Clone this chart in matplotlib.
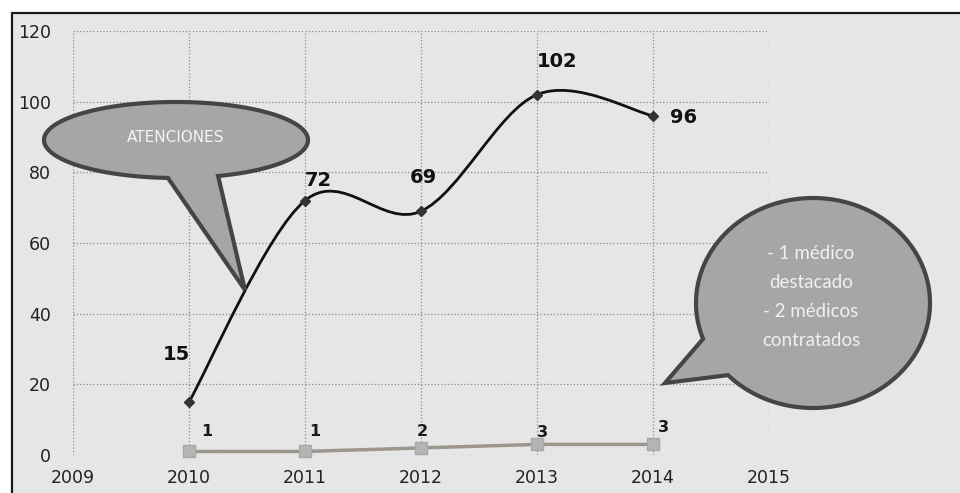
import numpy as np
import matplotlib.pyplot as plt
from matplotlib.path import Path
from matplotlib.patches import PathPatch, Polygon, Rectangle

years = [2010, 2011, 2012, 2013, 2014]
atenciones = [15, 72, 69, 102, 96]
medicos = [1, 1, 2, 3, 3]
xticks = [2009, 2010, 2011, 2012, 2013, 2014, 2015]
yticks = [0, 20, 40, 60, 80, 100, 120]
callout_main = "ATENCIONES"
callout_doc = "- 1 médico\ndestacado\n- 2 médicos\ncontratados"

# label offsets in pixels (dx, dy up)
off_at = [(-13, 47), (13, 20), (2, 34), (20, 33), (31, -2)]
off_me = [(18, 20), (10, 20), (1, 16), (5, 12), (10, 17)]


def smooth_path(xs, ys):
    # excel-like smoothed line as cubic bezier segments
    p = np.column_stack([xs, ys]).astype(float)
    n = len(p)
    verts = [p[0]]
    codes = [Path.MOVETO]
    for i in range(n - 1):
        p0 = p[i - 1] if i > 0 else p[i]
        p3 = p[i + 2] if i + 2 < n else p[i + 1]
        c1 = p[i] + (p[i + 1] - p0) / 6
        c2 = p[i + 1] - (p3 - p[i]) / 6
        verts += [c1, c2, p[i + 1]]
        codes += [Path.CURVE4] * 3
    return Path(verts, codes)


def bubble(cx, cy, a, b, t0, t1, tip):
    t = np.radians(np.linspace(t0, t1, 200))
    pts = np.column_stack([cx + a * np.cos(t), cy + b * np.sin(t)])
    return np.vstack([pts, [tip]])


fig = plt.figure(figsize=(9.6, 4.93), dpi=100)
fig.patch.set_facecolor('white')

# background / frame
bg = fig.add_axes([0, 0, 1, 1], zorder=0)
bg.set_xlim(0, 960)
bg.set_ylim(493, 0)
bg.axis('off')
bg.add_patch(Rectangle((12, 13), 960, 500, facecolor='#e6e6e6',
                       edgecolor='#1a1a1a', lw=1.6))

ax = fig.add_axes([73 / 960, 38 / 493, 696 / 960, 424 / 493], zorder=1)
ax.set_facecolor('none')
ax.set_xlim(2009, 2015)
ax.set_ylim(0, 120)
ax.set_xticks(xticks)
ax.set_yticks(yticks)
ax.grid(True, linestyle=':', color='#8a8a8a', lw=0.9)
for s in ax.spines.values():
    s.set_visible(False)
ax.tick_params(length=0, labelsize=12.5, colors='#222222')
ax.tick_params(axis='x', pad=10)
ax.tick_params(axis='y', pad=16)

# medicos series
ax.plot(years, medicos, color='#9c968e', lw=2.5, marker='s', ms=8,
        mfc='#b4b4b4', mec='#a8a8a8', zorder=3, clip_on=False)
for x, y, (dx, dy) in zip(years, medicos, off_me):
    ax.annotate(str(y), (x, y), xytext=(dx, dy), textcoords='offset pixels',
                ha='center', va='center', fontsize=11.5, fontweight='bold',
                color='#1a1a1a')

# atenciones series (smoothed)
ax.add_patch(PathPatch(smooth_path(years, atenciones), fill=False,
                       edgecolor='#111111', lw=2, zorder=4))
ax.plot(years, atenciones, ls='none', marker='D', ms=5, color='#333333',
        zorder=5)
for x, y, (dx, dy) in zip(years, atenciones, off_at):
    ax.annotate(str(y), (x, y), xytext=(dx, dy), textcoords='offset pixels',
                ha='center', va='center', fontsize=14, fontweight='bold',
                color='#111111')

# callouts
ov = fig.add_axes([0, 0, 1, 1], zorder=2)
ov.set_xlim(0, 960)
ov.set_ylim(493, 0)
ov.axis('off')
ov.add_patch(Polygon(bubble(176, 140, 132, 38, 93.5, 431.4, (245, 290)),
                     closed=True, facecolor='#a6a6a6', edgecolor='#454545',
                     lw=3))
ov.text(176, 138, callout_main, ha='center', va='center', fontsize=11,
        color='#f4f4f4')
ov.add_patch(Polygon(bubble(813, 303, 117, 105, 160, 496.6, (665, 383)),
                     closed=True, facecolor='#a6a6a6', edgecolor='#454545',
                     lw=3))
ov.text(811, 297, callout_doc, ha='center', va='center', fontsize=13.5,
        family='Lato', color='#f0f0f0', linespacing=1.85)

plt.savefig('out.png', dpi=100, facecolor=fig.get_facecolor())
